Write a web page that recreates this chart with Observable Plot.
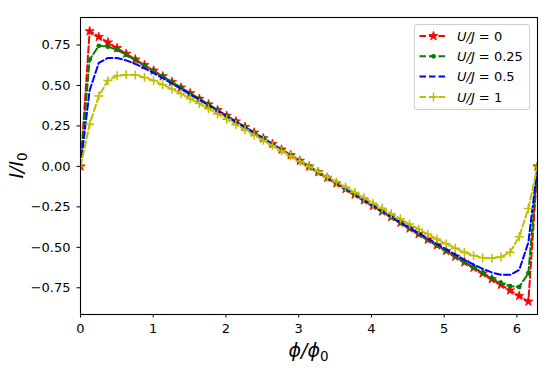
<!DOCTYPE html>
<html><head><meta charset="utf-8">
<script src="https://cdn.jsdelivr.net/npm/d3@7"></script>
<script src="https://cdn.jsdelivr.net/npm/@observablehq/plot@0.6"></script>
<style>body{margin:0;background:#fff} svg{display:block}</style>
</head><body><div id="chart"></div>
<script>
// sample grid: 51 equally spaced flux values from 0 to 2π
const N = 50;
const phi = d3.range(N + 1).map(i => 2 * Math.PI * i / N);

const seriesNames = ["0", "0.25", "0.5", "1"];
const seriesColors = ["#ff0000", "#008000", "#0000ff", "#bfbf00"];

const I_U0 = [0, 0.835,0.800,0.766,0.731,0.696,0.661,0.626,0.592,0.557,0.522,0.487,0.452,0.418,0.383,0.348,0.313,0.278,0.244,0.209,0.174,0.139,0.104,0.070,0.035,
  0, -0.035,-0.070,-0.104,-0.139,-0.174,-0.209,-0.244,-0.278,-0.313,-0.348,-0.383,-0.418,-0.452,-0.487,-0.522,-0.557,-0.592,-0.626,-0.661,-0.696,-0.731,-0.766,-0.800,-0.835, 0];
const I_U025 = [0, 0.660,0.745,0.740,0.720,0.690,0.657,0.624,0.590,0.556,0.521,0.486,0.452,0.417,0.383,0.348,0.313,0.278,0.244,0.209,0.174,0.139,0.104,0.070,0.035,
  0, -0.035,-0.070,-0.104,-0.139,-0.174,-0.209,-0.244,-0.278,-0.313,-0.348,-0.383,-0.417,-0.452,-0.486,-0.521,-0.556,-0.590,-0.624,-0.657,-0.690,-0.720,-0.740,-0.745,-0.660, 0];
const I_U05 = [0, 0.470,0.640,0.670,0.670,0.655,0.633,0.606,0.577,0.545,0.512,0.479,0.445,0.412,0.378,0.344,0.309,0.275,0.241,0.207,0.172,0.138,0.103,0.069,0.035,
  0, -0.035,-0.069,-0.103,-0.138,-0.172,-0.207,-0.241,-0.275,-0.309,-0.344,-0.378,-0.412,-0.445,-0.479,-0.512,-0.545,-0.577,-0.606,-0.633,-0.655,-0.670,-0.670,-0.640,-0.470, 0];
const I_U1 = [0, 0.260,0.435,0.530,0.560,0.567,0.565,0.550,0.530,0.505,0.478,0.449,0.418,0.388,0.356,0.324,0.292,0.259,0.227,0.194,0.161,0.129,0.096,0.065,0.032,
  0, -0.032,-0.065,-0.096,-0.129,-0.161,-0.194,-0.227,-0.259,-0.292,-0.324,-0.356,-0.388,-0.418,-0.449,-0.478,-0.505,-0.530,-0.550,-0.565,-0.567,-0.560,-0.530,-0.435,-0.260, 0];

const xTicks = [0, 1, 2, 3, 4, 5, 6];
const yTicks = [-0.75, -0.5, -0.25, 0, 0.25, 0.5, 0.75];

const toRows = arr => arr.map((v, i) => ({phi: phi[i], I: v}));
const d0 = toRows(I_U0), d1 = toRows(I_U025), d2 = toRows(I_U05), d3r = toRows(I_U1);

const dash = "6.5,3";
const lw = 2;
const starR = 2.9, plusR = 3.0, dotR = 2.4;

const chart = Plot.plot({
  width: 550, height: 368,
  marginLeft: 80, marginRight: 13, marginTop: 17, marginBottom: 54,
  style: {fontFamily: "DejaVu Sans", fontSize: "13px", background: "white", color: "black"},
  x: {domain: [0, 2 * Math.PI], ticks: xTicks, tickFormat: d => String(d), label: null, tickSize: 3.5, tickPadding: 5.5},
  y: {domain: [-0.915, 0.92], ticks: yTicks, tickFormat: d3.format(".2f"), label: null, tickSize: 3.5, tickPadding: 6.5},
  marks: [
    Plot.line(d0, {x: "phi", y: "I", stroke: seriesColors[0], strokeWidth: lw, strokeDasharray: dash, clip: true}),
    Plot.dot(d0, {x: "phi", y: "I", symbol: "star", r: starR, fill: seriesColors[0], stroke: seriesColors[0], strokeWidth: 0.8, clip: true}),
    Plot.line(d1, {x: "phi", y: "I", stroke: seriesColors[1], strokeWidth: lw, strokeDasharray: dash, clip: true}),
    Plot.dot(d1, {x: "phi", y: "I", symbol: "circle", r: dotR, fill: seriesColors[1], stroke: "none", clip: true}),
    Plot.line(d2, {x: "phi", y: "I", stroke: seriesColors[2], strokeWidth: lw, strokeDasharray: dash, clip: true}),
    Plot.line(d3r, {x: "phi", y: "I", stroke: seriesColors[3], strokeWidth: lw, strokeDasharray: dash, clip: true}),
    Plot.dot(d3r, {x: "phi", y: "I", symbol: "plus", r: plusR, stroke: seriesColors[3], strokeWidth: 1.5, clip: true}),
    Plot.frame({stroke: "black", strokeWidth: 1.1})
  ]
});
document.getElementById("chart").appendChild(chart);

const svg = d3.select(chart);

// axis labels
const xl = svg.append("text").attr("x", 308.5).attr("y", 357)
  .attr("text-anchor", "middle").style("font-family", "DejaVu Sans").style("font-size", "19px");
xl.append("tspan").style("font-style", "italic").text("ϕ/ϕ");
xl.append("tspan").attr("dy", 4).style("font-size", "13.5px").text("0");

const yl = svg.append("text").attr("transform", "translate(23,165.5) rotate(-90)")
  .attr("text-anchor", "middle").style("font-family", "DejaVu Sans").style("font-size", "19px");
yl.append("tspan").style("font-style", "italic").text("I/I");
yl.append("tspan").attr("dy", 4).style("font-size", "13.5px").text("0");

// legend
const lg = svg.append("g");
lg.append("rect").attr("x", 414.5).attr("y", 24.5).attr("width", 115).attr("height", 85)
  .attr("rx", 2.5).attr("fill", "white").attr("fill-opacity", 0.8).attr("stroke", "#cccccc").attr("stroke-width", 1);
const symbols = ["star", "circle", null, "plus"];
seriesNames.forEach((name, k) => {
  const y = 36 + k * 20.3;
  lg.append("line").attr("x1", 419.5).attr("x2", 447.5).attr("y1", y).attr("y2", y)
    .attr("stroke", seriesColors[k]).attr("stroke-width", lw).attr("stroke-dasharray", dash);
  if (symbols[k] === "star") {
    lg.append("path").attr("transform", `translate(433.5,${y})`)
      .attr("d", d3.symbol(d3.symbolStar, Math.PI * starR * starR)())
      .attr("fill", seriesColors[k]).attr("stroke", seriesColors[k]).attr("stroke-width", 0.8);
  } else if (symbols[k] === "circle") {
    lg.append("circle").attr("cx", 433.5).attr("cy", y).attr("r", dotR).attr("fill", seriesColors[k]);
  } else if (symbols[k] === "plus") {
    lg.append("path").attr("transform", `translate(433.5,${y})`)
      .attr("d", d3.symbol(d3.symbolPlus, Math.PI * plusR * plusR)()).attr("fill", "none")
      .attr("stroke", seriesColors[k]).attr("stroke-width", 1.5);
  }
  const t = lg.append("text").attr("x", 457).attr("y", y + 4.7).attr("text-anchor", "start")
    .style("font-family", "DejaVu Sans").style("font-size", "13px");
  t.append("tspan").style("font-style", "italic").text("U/J");
  t.append("tspan").text(" = " + name);
});
</script>
</body></html>
